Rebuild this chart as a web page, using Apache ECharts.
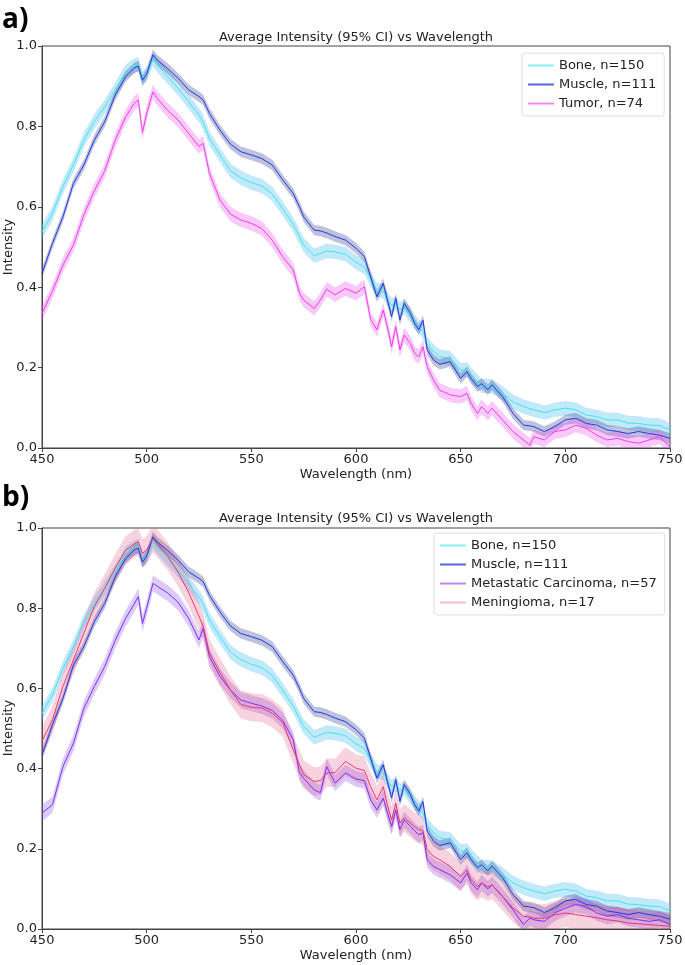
<!DOCTYPE html>
<html>
<head>
<meta charset="utf-8">
<script src="https://cdn.jsdelivr.net/npm/echarts@6/dist/echarts.min.js"></script>
<style>
html,body{margin:0;padding:0;background:#fff;}
#chart{width:685px;height:965px;}
</style>
</head>
<body>
<div id="chart"></div>
<script>
// Wavelength grid (nm)
const wavelength = [450,455,460,465,470,475,480,485,490,494,496,498,500,503,505,510,515,520,525,527,530,535,540,545,550,555,560,565,570,573,575,580,583,586,590,595,600,604,607,610,613,615,617,619,621,623,626,628,630,632,634,637,640,645,650,653,655,658,660,663,665,670,675,680,683,685,690,695,700,705,710,715,720,725,730,735,740,745,750];

const bone = [0.538,0.584,0.65,0.704,0.766,0.812,0.849,0.891,0.936,0.95,0.955,0.918,0.93,0.968,0.953,0.924,0.895,0.862,0.828,0.81,0.77,0.729,0.69,0.672,0.66,0.652,0.632,0.595,0.556,0.525,0.505,0.478,0.484,0.49,0.488,0.482,0.462,0.45,0.42,0.393,0.39,0.37,0.355,0.36,0.345,0.35,0.33,0.315,0.302,0.29,0.26,0.24,0.227,0.223,0.194,0.195,0.182,0.165,0.155,0.155,0.153,0.136,0.115,0.103,0.098,0.095,0.088,0.095,0.099,0.095,0.082,0.078,0.07,0.07,0.062,0.061,0.057,0.056,0.045];

const muscle = [0.434,0.509,0.575,0.658,0.704,0.766,0.812,0.878,0.924,0.945,0.95,0.915,0.93,0.978,0.965,0.944,0.92,0.891,0.874,0.866,0.832,0.791,0.756,0.737,0.729,0.72,0.704,0.667,0.633,0.6,0.575,0.542,0.54,0.535,0.526,0.517,0.497,0.476,0.426,0.376,0.41,0.368,0.327,0.372,0.318,0.36,0.335,0.31,0.294,0.318,0.244,0.219,0.208,0.215,0.173,0.19,0.173,0.153,0.16,0.145,0.157,0.128,0.086,0.057,0.055,0.053,0.041,0.053,0.07,0.074,0.061,0.057,0.045,0.041,0.036,0.041,0.036,0.032,0.024];

const tumor = [0.335,0.39,0.455,0.505,0.58,0.64,0.69,0.766,0.824,0.857,0.866,0.785,0.832,0.886,0.87,0.84,0.816,0.783,0.75,0.758,0.683,0.617,0.582,0.567,0.559,0.546,0.517,0.476,0.443,0.385,0.368,0.347,0.368,0.395,0.381,0.397,0.385,0.401,0.32,0.294,0.343,0.302,0.252,0.302,0.244,0.281,0.26,0.235,0.227,0.252,0.202,0.169,0.144,0.132,0.128,0.136,0.111,0.086,0.103,0.086,0.099,0.07,0.041,0.02,0.007,0.028,0.02,0.041,0.045,0.057,0.049,0.032,0.02,0.024,0.016,0.012,0.02,0.028,0.003];

const metastatic = [0.289,0.31,0.405,0.463,0.55,0.605,0.655,0.72,0.775,0.81,0.829,0.762,0.8,0.862,0.855,0.838,0.815,0.775,0.721,0.75,0.679,0.63,0.596,0.571,0.563,0.556,0.545,0.52,0.472,0.39,0.376,0.347,0.34,0.405,0.364,0.389,0.374,0.37,0.322,0.297,0.326,0.29,0.256,0.297,0.248,0.272,0.256,0.245,0.235,0.24,0.173,0.156,0.148,0.135,0.115,0.14,0.115,0.098,0.115,0.1,0.11,0.081,0.048,0.011,0.027,0.023,0.019,0.04,0.052,0.061,0.056,0.04,0.032,0.036,0.027,0.023,0.019,0.023,0.011];

const meningioma = [0.468,0.522,0.605,0.671,0.738,0.804,0.85,0.9,0.945,0.96,0.966,0.937,0.945,0.974,0.962,0.93,0.89,0.84,0.78,0.754,0.688,0.64,0.596,0.56,0.553,0.551,0.538,0.515,0.447,0.41,0.385,0.368,0.37,0.389,0.39,0.418,0.401,0.395,0.355,0.322,0.355,0.31,0.272,0.314,0.264,0.277,0.264,0.255,0.248,0.245,0.198,0.181,0.173,0.156,0.131,0.148,0.123,0.106,0.115,0.105,0.11,0.081,0.052,0.032,0.03,0.027,0.027,0.035,0.04,0.036,0.032,0.028,0.023,0.02,0.015,0.013,0.011,0.009,0.007];

// 95% CI half-widths
const ciBone = 0.018, ciMuscle = 0.013, ciTumor = 0.018, ciMetastatic = 0.02, ciMeningioma = 0.035;

const xTicks = {min: 450, max: 750, interval: 50};
const yTicks = {min: 0, max: 1, interval: 0.2};

const titleText = 'Average Intensity (95% CI) vs Wavelength';
const yName = 'Intensity';

const FONT = 'DejaVu Sans';

function bandSeries(values, ci, fillColor, gi) {
  return {
    type: 'custom', xAxisIndex: gi, yAxisIndex: gi, silent: true, clip: true, z: 1,
    data: values.map((v, i) => [wavelength[i], v]),
    encode: {x: 0, y: 1},
    renderItem: function (params, api) {
      if (params.dataIndex !== 0) return null;
      const pts = [];
      for (let i = 0; i < values.length; i++) pts.push(api.coord([wavelength[i], values[i] + ci]));
      for (let i = values.length - 1; i >= 0; i--) pts.push(api.coord([wavelength[i], values[i] - ci]));
      return {type: 'polygon', shape: {points: pts}, style: {fill: fillColor, stroke: null}};
    }
  };
}

function lineSeries(name, values, lineColor, gi) {
  return {type: 'line', xAxisIndex: gi, yAxisIndex: gi, name: name,
    data: values.map((v, i) => [wavelength[i], v]), symbol: 'none',
    lineStyle: {color: lineColor, width: 1}, itemStyle: {color: lineColor}, z: 3};
}

const C = {
  bone: {line: '#3fe6f2', fill: 'rgba(100,200,240,0.40)', legend: '#80f2f8'},
  muscle: {line: '#2238e0', fill: 'rgba(60,70,150,0.33)', legend: '#5566dd'},
  tumor: {line: '#ec3cec', fill: 'rgba(235,80,235,0.30)', legend: '#f288f2'},
  meta: {line: '#7a2ff2', fill: 'rgba(140,80,235,0.30)', legend: '#bb8cef'},
  menin: {line: '#e8386e', fill: 'rgba(225,80,130,0.26)', legend: '#f2bccb'}
};

const names = {
  bone: 'Bone, n=150', muscle: 'Muscle, n=111', tumor: 'Tumor, n=74',
  meta: 'Metastatic Carcinoma, n=57', menin: 'Meningioma, n=17'
};

const series = [
  bandSeries(bone, ciBone, C.bone.fill, 0),
  bandSeries(muscle, ciMuscle, C.muscle.fill, 0),
  bandSeries(tumor, ciTumor, C.tumor.fill, 0),
  lineSeries(names.bone, bone, C.bone.line, 0),
  lineSeries(names.muscle, muscle, C.muscle.line, 0),
  lineSeries(names.tumor, tumor, C.tumor.line, 0),
  bandSeries(bone, ciBone, C.bone.fill, 1),
  bandSeries(muscle, ciMuscle, C.muscle.fill, 1),
  bandSeries(metastatic, ciMetastatic, C.meta.fill, 1),
  bandSeries(meningioma, ciMeningioma, C.menin.fill, 1),
  lineSeries(names.bone, bone, C.bone.line, 1),
  lineSeries(names.muscle, muscle, C.muscle.line, 1),
  lineSeries(names.meta, metastatic, C.meta.line, 1),
  lineSeries(names.menin, meningioma, C.menin.line, 1)
];

function xAxis(gi, nameGap) {
  return {type: 'value', gridIndex: gi, min: xTicks.min, max: xTicks.max, interval: xTicks.interval,
    name: 'Wavelength (nm)', nameLocation: 'middle', nameGap: nameGap,
    nameTextStyle: {fontFamily: FONT, fontSize: 13, color: '#222'},
    axisLine: {show: true, onZero: false, lineStyle: {color: '#444', width: 1}},
    axisTick: {show: true, length: 4, lineStyle: {color: '#444'}},
    axisLabel: {fontFamily: FONT, fontSize: 13, color: '#222', margin: 5},
    splitLine: {show: false}};
}
function yAxis(gi) {
  return {type: 'value', gridIndex: gi, min: yTicks.min, max: yTicks.max, interval: yTicks.interval,
    axisLine: {show: true, lineStyle: {color: '#444', width: 1}},
    axisTick: {show: true, length: 4, lineStyle: {color: '#444'}},
    axisLabel: {fontFamily: FONT, fontSize: 13, color: '#222', margin: 5, formatter: v => v.toFixed(1)},
    splitLine: {show: false}};
}

function legend(keys, left, top) {
  return {
    orient: 'vertical', left: left, top: top,
    data: keys.map(k => ({name: names[k], icon: 'rect', itemStyle: {color: C[k].legend}})),
    itemWidth: 26, itemHeight: 2, itemGap: 4,
    textStyle: {fontFamily: FONT, fontSize: 13, color: '#222', lineHeight: 15},
    backgroundColor: '#fff', borderColor: '#ddd', borderWidth: 1, borderRadius: 3,
    padding: [5, 8, 5, 6], selectedMode: false
  };
}

const gridBase = {show: true, borderColor: '#444', borderWidth: 1, backgroundColor: 'transparent',
  containLabel: false, outerBoundsMode: 'none'};

const option = {
  animation: false,
  backgroundColor: '#fff',
  grid: [
    Object.assign({left: 42, top: 46, width: 628, height: 402}, gridBase),
    Object.assign({left: 42, top: 528, width: 628, height: 401}, gridBase)
  ],
  xAxis: [xAxis(0, 20), xAxis(1, 20)],
  yAxis: [yAxis(0), yAxis(1)],
  legend: [
    legend(['bone', 'muscle', 'tumor'], 522, 53),
    legend(['bone', 'muscle', 'meta', 'menin'], 434, 533)
  ],
  graphic: [
    {type: 'text', left: 2, top: 6, style: {text: 'a)', font: 'bold 28px "Open Sans", "DejaVu Sans"', fill: '#000'}},
    {type: 'text', left: 2, top: 484, style: {text: 'b)', font: 'bold 28px "Open Sans", "DejaVu Sans"', fill: '#000'}},
    {type: 'text', x: 356, y: 38, style: {text: titleText, font: '13px "DejaVu Sans"', fill: '#222', align: 'center', verticalAlign: 'middle'}},
    {type: 'text', x: 356, y: 519, style: {text: titleText, font: '13px "DejaVu Sans"', fill: '#222', align: 'center', verticalAlign: 'middle'}},
    {type: 'text', x: 9, y: 247, rotation: Math.PI / 2, style: {text: yName, font: '13px "DejaVu Sans"', fill: '#222', align: 'center', verticalAlign: 'middle'}},
    {type: 'text', x: 9, y: 728, rotation: Math.PI / 2, style: {text: yName, font: '13px "DejaVu Sans"', fill: '#222', align: 'center', verticalAlign: 'middle'}}
  ],
  series: series
};

const chart = echarts.init(document.getElementById('chart'), null, {renderer: 'canvas'});
chart.setOption(option);
</script>
</body>
</html>
